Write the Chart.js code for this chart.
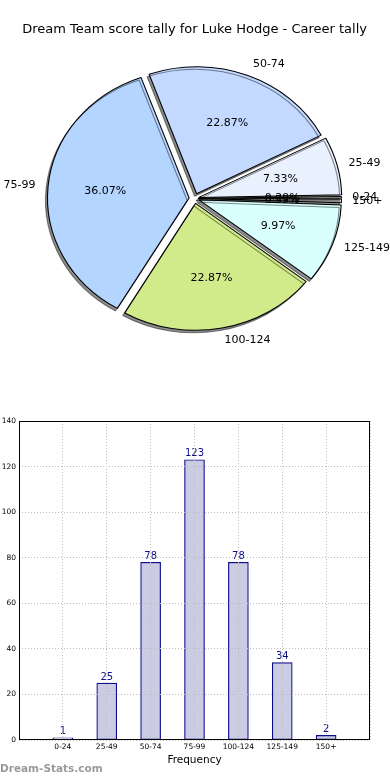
<!DOCTYPE html>
<html>
<head>
<meta charset="utf-8">
<script src="https://cdn.jsdelivr.net/npm/chart.js@4"></script>
<style>
  body { margin: 0; background: #fff; width: 390px; height: 780px; overflow: hidden; position: relative; }
  #pieWrap { position: absolute; left: 0; top: 0; width: 390px; height: 400px; }
  #barWrap { position: absolute; left: 0; top: 400px; width: 390px; height: 380px; }
  #mark { position: absolute; left: 0; top: 762px; font: bold 10.5px "DejaVu Sans"; color: #9a9a9a; white-space: nowrap; }
</style>
</head>
<body>
<div id="pieWrap"><canvas id="pieChart" width="390" height="400"></canvas></div>
<div id="barWrap"><canvas id="barChart" width="390" height="380"></canvas></div>
<div id="mark">Dream-Stats.com</div>
<script>
// score bands and how many games fell in each
const categories = ['0-24', '25-49', '50-74', '75-99', '100-124', '125-149', '150+'];
const frequency = [1, 25, 78, 123, 78, 34, 2];
const yTicks = [0, 20, 40, 60, 80, 100, 120, 140];

const sliceColors = ['#ffffff', '#e9f0fe', '#c4d9ff', '#b4d5ff', '#d1eb8b', '#d9ffff', '#ffffff'];
const sliceOffsets = [12, 16, 20, 20, 20, 17, 12];

const FONT = 'DejaVu Sans';
const SX = 1.105;   // pie is drawn a bit wider than tall
const total = frequency.reduce((a, b) => a + b, 0);

// matplotlib goes counter-clockwise, chart.js clockwise -> feed reversed
const rev = (arr) => arr.slice().reverse();

const pieStyle = {
    id: 'pieStyle',
    beforeDatasetsDraw(chart) {
        const arc = chart.getDatasetMeta(0).data[0];
        const ctx = chart.ctx;
        ctx.save();
        ctx.translate(arc.x, arc.y);
        ctx.scale(SX, 1);
        ctx.translate(-arc.x, -arc.y);
        ctx.shadowColor = 'rgba(0,0,0,0.45)';
        ctx.shadowOffsetX = -2;
        ctx.shadowOffsetY = 2.5;
    },
    afterDatasetsDraw(chart) {
        const ctx = chart.ctx;
        ctx.restore();
        const meta = chart.getDatasetMeta(0);
        const labels = chart.data.labels;
        const vals = chart.data.datasets[0].data;
        const offs = chart.data.datasets[0].offset;
        ctx.save();
        ctx.font = '11px "' + FONT + '"';
        ctx.fillStyle = '#000';
        ctx.textBaseline = 'middle';
        meta.data.forEach((arc, i) => {
            const p = arc.getProps(['x', 'y', 'startAngle', 'endAngle', 'outerRadius'], true);
            const mid = (p.startAngle + p.endAngle) / 2;
            const d = offs[i] / 4;
            const c = Math.cos(mid), s = Math.sin(mid);
            // outer category label
            const lx = p.x + (d + p.outerRadius * 1.1) * c * SX;
            const ly = p.y + (d + p.outerRadius * 1.1) * s;
            ctx.textAlign = c >= 0 ? 'left' : 'right';
            ctx.fillText(labels[i], lx, ly);
            // percentage inside
            const px = p.x + (d + p.outerRadius * 0.6) * c * SX;
            const py = p.y + (d + p.outerRadius * 0.6) * s;
            ctx.textAlign = 'center';
            ctx.fillText((vals[i] / total * 100).toFixed(2) + '%', px, py);
        });
        ctx.restore();
    }
};

new Chart(document.getElementById('pieChart'), {
    type: 'pie',
    data: {
        labels: rev(categories),
        datasets: [{
            data: rev(frequency),
            backgroundColor: rev(sliceColors),
            borderColor: '#000',
            borderWidth: 1,
            offset: rev(sliceOffsets)
        }]
    },
    options: {
        responsive: false,
        animation: false,
        rotation: 90,
        radius: 127,
        layout: { padding: { top: 0, bottom: 40.8, left: 0, right: 0.8 } },
        plugins: {
            legend: { display: false },
            tooltip: { enabled: false },
            title: {
                display: true,
                text: 'Dream Team score tally for Luke Hodge - Career tally',
                color: '#000',
                font: { family: FONT, size: 13, weight: 'normal' },
                padding: { top: 22, bottom: 0 }
            }
        }
    },
    plugins: [pieStyle]
});

const frame = {
    id: 'frame',
    afterDraw(chart) {
        const a = chart.chartArea;
        const ctx = chart.ctx;
        ctx.save();
        ctx.strokeStyle = '#000';
        ctx.lineWidth = 1;
        ctx.strokeRect(Math.round(a.left) + 0.5, Math.round(a.top) + 0.5, Math.round(a.width) - 1, Math.round(a.height) - 1);
        ctx.restore();
    }
};

const barValues = {
    id: 'barValues',
    afterDatasetsDraw(chart) {
        const ctx = chart.ctx;
        const meta = chart.getDatasetMeta(0);
        ctx.save();
        ctx.font = '10px "' + FONT + '"';
        ctx.fillStyle = '#10108a';
        ctx.textAlign = 'center';
        ctx.textBaseline = 'bottom';
        meta.data.forEach((bar, i) => {
            ctx.fillText(String(frequency[i]), bar.x, bar.y - 1);
        });
        ctx.restore();
    }
};

new Chart(document.getElementById('barChart'), {
    type: 'bar',
    data: {
        datasets: [{
            data: categories.map((c, i) => ({ x: i, y: frequency[i] })),
            backgroundColor: '#cbcbe4',
            borderColor: '#0c0c8c',
            borderWidth: 1.2,
            borderSkipped: false,
            barThickness: 20
        }]
    },
    options: {
        responsive: false,
        animation: false,
        layout: { padding: { top: 21, right: 20, left: 0, bottom: 0 } },
        plugins: { legend: { display: false }, tooltip: { enabled: false } },
        scales: {
            x: {
                type: 'linear',
                offset: false,
                min: -1,
                max: 7,
                afterFit(s) { s.height = 40; },
                grid: { color: '#bdbdbd', z: 1, drawTicks: false, offset: false },
                border: { display: false, dash: [1, 2] },
                ticks: {
                    stepSize: 1,
                    autoSkip: false,
                    maxRotation: 0,
                    padding: 3,
                    color: '#000',
                    font: { family: FONT, size: 7.5 },
                    callback: (v) => categories[v] || ''
                },
                title: {
                    display: true,
                    text: 'Frequency',
                    color: '#000',
                    font: { family: FONT, size: 10.5 },
                    padding: { top: 0, bottom: 13.7 }
                }
            },
            y: {
                min: 0,
                max: 140,
                afterFit(s) { s.width = 19; },
                afterBuildTicks(s) { s.ticks = yTicks.map(v => ({ value: v })); },
                grid: { color: '#bdbdbd', z: 1, drawTicks: false },
                border: { display: false, dash: [1, 2] },
                ticks: {
                    padding: 3,
                    color: '#000',
                    font: { family: FONT, size: 7.5 }
                }
            }
        }
    },
    plugins: [barValues, frame]
});
</script>
</body>
</html>
